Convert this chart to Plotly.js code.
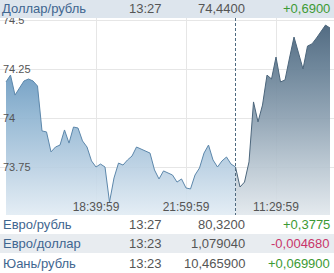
<!DOCTYPE html>
<html>
<head>
<meta charset="utf-8">
<script src="https://cdn.plot.ly/plotly-3.0.1.min.js"></script>
<style>
html,body{margin:0;padding:0;background:#fff;}
#chart{width:334px;height:273px;}
</style>
</head>
<body>
<div id="chart"></div>
<script>
// USD/RUB, 10-minute bars (index-based axis, non-trading hours removed)
const usdRub = [
  74.184, 74.219, 74.117, 74.153, 74.189, 74.199, 74.189, 74.163, 73.934, 73.929,
  73.827, 73.852, 73.862, 73.939, 73.872, 73.954, 73.949, 73.883, 73.852, 73.781,
  73.750, 73.765, 73.750, 73.571, 73.694, 73.770, 73.760, 73.786, 73.806, 73.852,
  73.842, 73.832, 73.821, 73.735, 73.689, 73.730, 73.719, 73.709, 73.673, 73.689,
  73.643, 73.638, 73.709, 73.745, 73.821, 73.862, 73.786, 73.750, 73.781, 73.801,
  73.765, 73.750, 73.648, 73.673, 73.776, 74.082, 73.980, 74.066, 74.219, 74.199,
  74.311, 74.184, 74.194, 74.306, 74.413, 74.332, 74.250, 74.367, 74.378, 74.408,
  74.444, 74.474, 74.459
];
const tickIndex = [20, 40, 60];
const tickLabels = ['18:39:59', '21:59:59', '11:29:59'];
const sessionBreak = 51;

// Quote table
const pairs = ['Доллар/рубль', 'Евро/рубль', 'Евро/доллар', 'Юань/рубль'];
const quoteTimes = ['13:27', '13:27', '13:23', '13:23'];
const prices = ['74,4400', '80,3200', '1,079040', '10,465900'];
const changes = ['+0,6900', '+0,3775', '-0,004680', '+0,069900'];

const idx = usdRub.map((_, i) => i);
const xPrev = idx.slice(0, sessionBreak + 1);
const yPrev = usdRub.slice(0, sessionBreak + 1);
const xCur = idx.slice(sessionBreak);
const yCur = usdRub.slice(sessionBreak);

const FONT = 'Arial, "Liberation Sans", sans-serif';

const traces = [
  {
    x: xPrev, y: yPrev, type: 'scatter', mode: 'lines', fill: 'tozeroy',
    line: {color: '#5c87ab', width: 1},
    fillgradient: {type: 'vertical', start: 73.5, stop: 74.5,
      colorscale: [[0, 'rgba(226,236,244,0.9)'], [0.25, 'rgba(184,207,226,0.9)'], [0.5, 'rgba(142,180,209,0.9)'], [0.75, 'rgba(102,150,190,0.92)'], [1, 'rgba(66,120,168,0.95)']]},
    hoverinfo: 'skip'
  },
  {
    x: xCur, y: yCur, type: 'scatter', mode: 'lines', fill: 'tozeroy',
    line: {color: '#4c667c', width: 1},
    fillgradient: {type: 'vertical', start: 73.5, stop: 74.5,
      colorscale: [[0, 'rgba(226,232,237,0.9)'], [0.25, 'rgba(183,197,208,0.9)'], [0.5, 'rgba(140,160,177,0.92)'], [0.75, 'rgba(105,130,151,0.95)'], [1, 'rgba(74,100,124,0.97)']]},
    hoverinfo: 'skip'
  }
];

// plot area spans pixel rows TOP..BOT ; value 74.5 sits at row 20, 73.5 at row 216
const TOP = 6, BOT = 230, H = BOT - TOP;
const py = p => (BOT - p) / H;
const px = p => p / 334;
const extTop = (20 - TOP) / 196, extBot = (BOT - 216) / 196;

const shapes = [
  {type: 'line', xref: 'x', yref: 'paper', x0: sessionBreak, x1: sessionBreak, y0: py(216), y1: py(18),
   line: {color: '#4f6a80', width: 1, dash: '3px,2px'}, layer: 'above'},
  // header
  {type: 'rect', xref: 'paper', yref: 'paper', x0: 0, x1: 1, y0: py(18), y1: py(-5),
   fillcolor: '#dde5ed', line: {width: 0}, layer: 'above'},
  // table
  {type: 'rect', xref: 'paper', yref: 'paper', x0: 0, x1: 1, y0: py(280), y1: py(215),
   fillcolor: '#ffffff', line: {width: 0}, layer: 'above'},
  {type: 'rect', xref: 'paper', yref: 'paper', x0: 0, x1: 1, y0: py(253), y1: py(234),
   fillcolor: '#e8ecf0', line: {width: 0}, layer: 'above'}
];

const rowCenters = [8.5, 224.5, 243.5, 263];
const annotations = [];
pairs.forEach((name, r) => {
  const yc = py(rowCenters[r]);
  const base = {xref: 'paper', yref: 'paper', y: yc, yanchor: 'middle', showarrow: false,
    borderpad: 0, borderwidth: 0};
  annotations.push(Object.assign({}, base, {x: px(r === 0 ? 2 : 3), xanchor: 'left', text: name,
    font: {family: FONT, size: 13, color: '#3f6690'}}));
  annotations.push(Object.assign({}, base, {x: px(129), xanchor: 'left', text: quoteTimes[r],
    font: {family: FONT, size: 13, color: '#555555'}}));
  annotations.push(Object.assign({}, base, {x: px(245), xanchor: 'right', text: prices[r],
    font: {family: FONT, size: 13, color: '#555555'}}));
  const neg = changes[r].charAt(0) === '-';
  annotations.push(Object.assign({}, base, {x: px(330), xanchor: 'right', text: changes[r],
    font: {family: FONT, size: 13, color: neg ? '#c8356a' : '#3c9a34'}}));
});

const layout = {
  width: 334, height: 273,
  margin: {l: 0, r: 0, t: TOP, b: 273 - BOT, pad: 0},
  paper_bgcolor: '#ffffff', plot_bgcolor: '#ffffff',
  showlegend: false,
  xaxis: {
    range: [-1.333, 72.89], tickmode: 'array', tickvals: tickIndex, ticktext: tickLabels,
    ticklabelposition: 'inside', ticklabelstandoff: BOT - 216, showgrid: true, gridcolor: '#e6e6e6', gridwidth: 1,
    zeroline: false, showline: false, ticks: '', fixedrange: true,
    tickfont: {family: FONT, size: 12, color: '#555555'}
  },
  yaxis: {
    range: [73.5 - extBot, 74.5 + extTop], tickmode: 'array', tickvals: [73.5, 73.75, 74, 74.25, 74.5],
    ticktext: ['73.5', '73.75', '74', '74.25', '74.5'],
    ticklabelposition: 'inside', showgrid: true, gridcolor: '#e6e6e6', gridwidth: 1,
    zeroline: false, showline: false, ticks: '', fixedrange: true,
    tickfont: {family: FONT, size: 11, color: '#555555'}
  },
  shapes: shapes,
  annotations: annotations
};

Plotly.newPlot('chart', traces, layout, {staticPlot: true, displayModeBar: false});
</script>
</body>
</html>
